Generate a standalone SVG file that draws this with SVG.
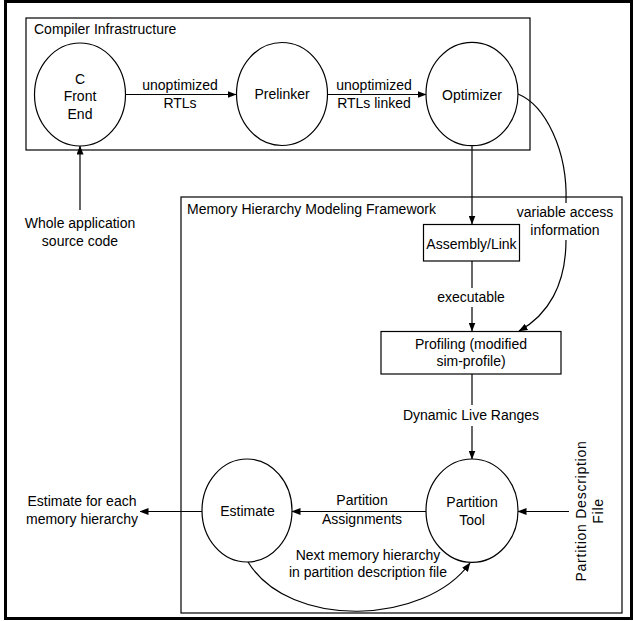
<svg xmlns="http://www.w3.org/2000/svg" width="634" height="621" viewBox="0 0 634 621">
<defs>
<style>
text{font-family:"Liberation Sans",Arial,sans-serif;font-size:14px;fill:#000}
.c{text-anchor:middle}
.box{fill:none;stroke:#000;stroke-width:1.2}
.node{fill:#fff;stroke:#000;stroke-width:1.2}
.edge{fill:none;stroke:#000;stroke-width:1.2}
</style>
<marker id="ah" markerWidth="9" markerHeight="7" refX="8.5" refY="3.5" orient="auto" markerUnits="userSpaceOnUse">
<path d="M0,0 L9,3.5 L0,7 z" fill="#000"/>
</marker>
</defs>
<rect x="0" y="0" width="634" height="621" fill="#fff"/>
<rect x="5.5" y="1.5" width="626" height="617" fill="none" stroke="#000" stroke-width="3"/>

<g id="compiler-infrastructure">
<rect class="box" x="26" y="18" width="504" height="132"/>
<text x="34" y="34">Compiler Infrastructure</text>
</g>
<g id="memory-framework">
<rect class="box" x="181" y="197" width="441" height="416"/>
<text x="187" y="214">Memory Hierarchy Modeling Framework</text>
</g>

<g id="connectors">
<path class="edge" d="M126,94.5 L236,94.5" marker-end="url(#ah)"/>
<text class="c" x="180" y="90">unoptimized</text>
<text class="c" x="180" y="108">RTLs</text>
<path class="edge" d="M328,94.5 L426,94.5" marker-end="url(#ah)"/>
<text class="c" x="374" y="90">unoptimized</text>
<text class="c" x="374" y="108">RTLs linked</text>
<path class="edge" d="M80,210 L80,146" marker-end="url(#ah)"/>
<text class="c" x="80" y="228">Whole application</text>
<text class="c" x="80" y="246">source code</text>
<path class="edge" d="M472,146 L472,224" marker-end="url(#ah)"/>
<path class="edge" d="M518,94 C545,105 568,150 566,203"/>
<text class="c" x="565" y="217">variable access</text>
<text class="c" x="565" y="235">information</text>
<path class="edge" d="M566,240 C566,285 548,315 519,331" marker-end="url(#ah)"/>
<path class="edge" d="M472,261 L472,288"/>
<text class="c" x="471" y="302">executable</text>
<path class="edge" d="M472,307 L472,331" marker-end="url(#ah)"/>
<path class="edge" d="M472,374 L472,405"/>
<text class="c" x="471" y="420">Dynamic Live Ranges</text>
<path class="edge" d="M472,426 L472,459" marker-end="url(#ah)"/>
<path class="edge" d="M569,511.5 L518,511.5" marker-end="url(#ah)"/>
<text class="c" transform="translate(586,511) rotate(-90)" style="letter-spacing:0.75px">Partition Description</text>
<text class="c" transform="translate(603,511) rotate(-90)" style="letter-spacing:0.75px">File</text>
<path class="edge" d="M426,511.5 L292,511.5" marker-end="url(#ah)"/>
<text class="c" x="362" y="505">Partition</text>
<text class="c" x="362" y="524">Assignments</text>
<path class="edge" d="M202,511.5 L140,511.5" marker-end="url(#ah)"/>
<text class="c" x="82" y="506">Estimate for each</text>
<text class="c" x="82" y="524">memory hierarchy</text>
<path class="edge" d="M248,562 C290,630 425,625 470,563" marker-end="url(#ah)"/>
<text class="c" x="368" y="560">Next memory hierarchy</text>
<text class="c" x="368" y="577">in partition description file</text>
</g>

<g id="c-front-end">
<ellipse class="node" cx="80" cy="94.5" rx="45.5" ry="51.5"/>
<text class="c" x="80" y="84">C</text>
<text class="c" x="80" y="101">Front</text>
<text class="c" x="80" y="119">End</text>
</g>
<g id="prelinker">
<ellipse class="node" cx="282" cy="94" rx="45.5" ry="51.5"/>
<text class="c" x="282" y="99">Prelinker</text>
</g>
<g id="optimizer">
<ellipse class="node" cx="472" cy="94" rx="46" ry="51.7"/>
<text class="c" x="472" y="100">Optimizer</text>
</g>
<g id="assembly-link">
<rect class="node" x="423.5" y="224.5" width="96" height="36.5"/>
<text class="c" x="471.5" y="249">Assembly/Link</text>
</g>
<g id="profiling">
<rect class="node" x="381" y="331.5" width="180" height="42.5"/>
<text class="c" x="471" y="349">Profiling (modified</text>
<text class="c" x="471" y="366">sim-profile)</text>
</g>
<g id="partition-tool">
<ellipse class="node" cx="472" cy="510.7" rx="46" ry="51.7"/>
<text class="c" x="472" y="507">Partition</text>
<text class="c" x="472" y="525">Tool</text>
</g>
<g id="estimate">
<ellipse class="node" cx="247" cy="510.5" rx="45" ry="51.5"/>
<text class="c" x="247.5" y="516">Estimate</text>
</g>
</svg>
